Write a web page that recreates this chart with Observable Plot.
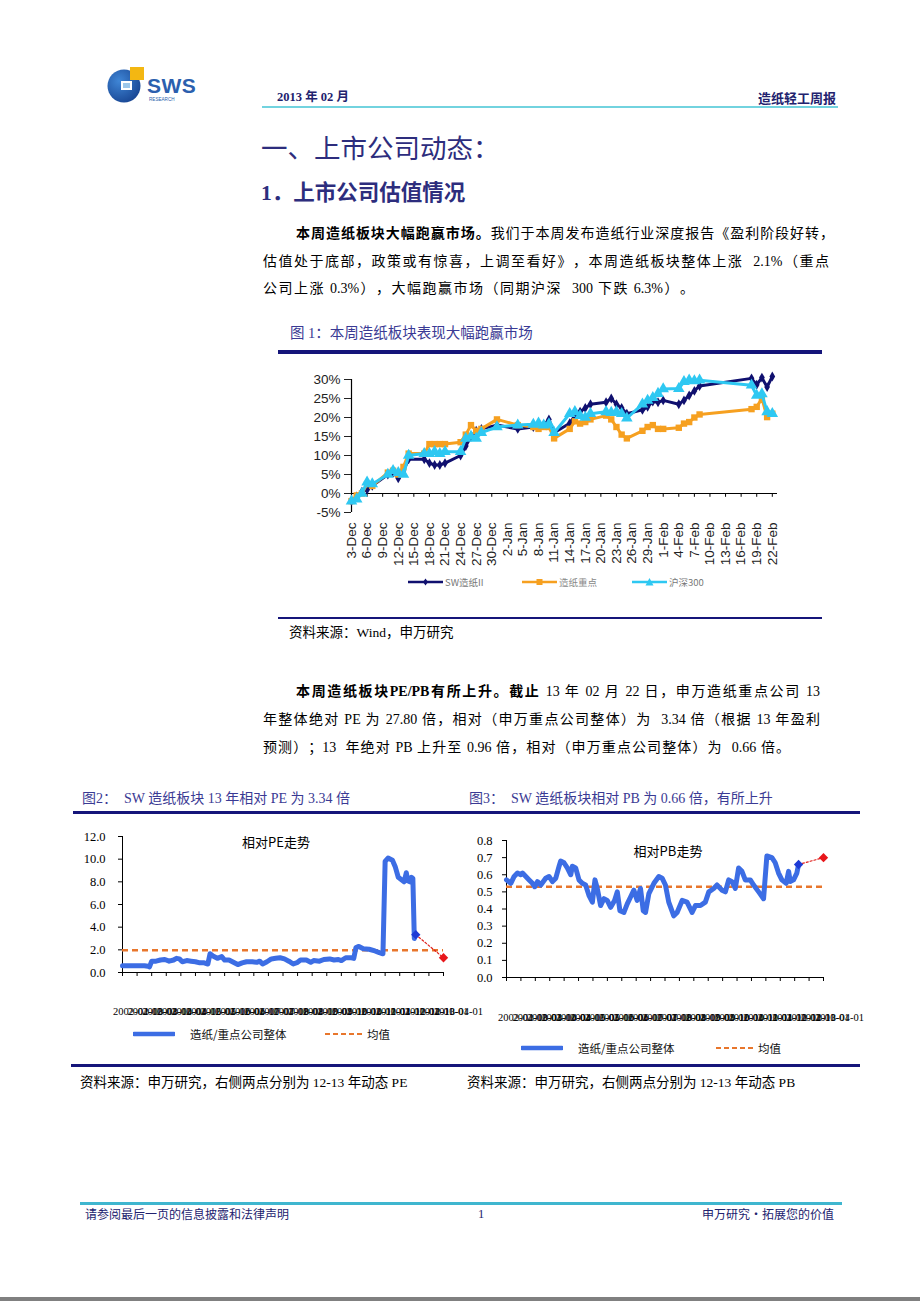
<!DOCTYPE html>
<html><head><meta charset="utf-8">
<script src="https://cdn.jsdelivr.net/npm/d3@7"></script>
<script src="https://cdn.jsdelivr.net/npm/@observablehq/plot@0.6"></script>
<style>
body{margin:0;background:#fff;}
#page{position:relative;width:920px;height:1301px;overflow:hidden;background:#fff;font-family:"Liberation Serif","Noto Sans CJK SC",serif;color:#000;text-spacing-trim:space-all;}
.abs{position:absolute;white-space:nowrap;}
.rule{position:absolute;}
.lg{position:absolute;display:flex;align-items:center;font-family:"Noto Sans CJK SC",sans-serif;white-space:nowrap;}
</style></head>
<body><div id="page"></div>
<script>
// ---------- Chart 1 data ----------
const dates1 = ["2012-12-03","2012-12-04","2012-12-05","2012-12-06","2012-12-07","2012-12-10","2012-12-11","2012-12-12","2012-12-13","2012-12-14","2012-12-17","2012-12-18","2012-12-19","2012-12-20","2012-12-21","2012-12-24","2012-12-25","2012-12-26","2012-12-27","2012-12-28","2012-12-31",
"2013-01-04","2013-01-07","2013-01-08","2013-01-09","2013-01-10","2013-01-11","2013-01-14","2013-01-15","2013-01-16","2013-01-17","2013-01-18","2013-01-21","2013-01-22","2013-01-23","2013-01-24","2013-01-25","2013-01-28","2013-01-29","2013-01-30","2013-01-31",
"2013-02-01","2013-02-04","2013-02-05","2013-02-06","2013-02-07","2013-02-08","2013-02-18","2013-02-19","2013-02-20","2013-02-21","2013-02-22"];
const swPaper = [-2,-0.8,0.5,1,2,5,5.5,4,6,9,9,8,7.5,7.5,8,10,12.5,15,16.5,17,18,
17,17.5,17.8,18,19.5,16,18.5,20.5,21.5,22.5,23.5,24,25,23.5,22.5,21,22,22.8,24.2,24,
24.5,23.5,24.5,25.8,27,28.3,30.3,28.6,30.5,28,30.8];
const keyPaper = [-2,-0.5,0,2.5,2,5.5,6,5,7,10.5,10.5,13,13,13,13,13.5,15.5,18,16.5,17,19.5,
18,17.5,17,17.5,17.5,14.5,17,19,18.4,18.8,19.5,20.5,19.5,17.5,15.5,14.5,16.5,17.5,18,17,
17,17.3,18.4,18.8,20,20.8,22.2,22.8,25,20.1,21];
const hs300 = [-2,-1.5,0,3,2.5,5,6,5.5,5,10,10.5,10.5,11,10.5,11,11,14.5,15,14.5,16,17.5,
18,18.2,18.5,18,18.3,16,21,21.5,20.5,20,21,21.5,21.3,21.5,21,19.8,23.5,24.5,25.2,26.3,
27.5,27.6,29.4,29.8,29.6,29.8,28.5,25.8,26.2,21.5,21];
const series1Names = ["SW造纸II","造纸重点","沪深300"];
const xTickLabels1 = ["3-Dec","6-Dec","9-Dec","12-Dec","15-Dec","18-Dec","21-Dec","24-Dec","27-Dec","30-Dec","2-Jan","5-Jan","8-Jan","11-Jan","14-Jan","17-Jan","20-Jan","23-Jan","26-Jan","29-Jan","1-Feb","4-Feb","7-Feb","10-Feb","13-Feb","16-Feb","19-Feb","22-Feb"];
const yTicks1 = [-5,0,5,10,15,20,25,30];

// ---------- Chart 2 data (relative PE) ----------
const peX = [0,0.5,1,1.5,1.75,1.85,2.0,2.3,2.6,2.9,3.2,3.5,3.7,3.9,4.1,4.4,4.7,5.0,5.3,5.6,5.85,6.0,6.2,6.5,6.8,7.0,7.3,7.6,7.9,8.2,8.5,8.9,9.2,9.4,9.6,9.9,10.2,10.5,10.8,11.1,11.4,11.7,12.0,12.2,12.6,12.9,13.1,13.5,13.8,14.2,14.5,14.8,15.0,15.3,15.7,15.85,16.0,16.2,16.5,16.9,17.3,17.6,17.85,18.0,18.2,18.5,18.7,18.9,19.1,19.3,19.45,19.55,19.7,19.8,19.9,20.0,20.1];
const peV = [0.6,0.6,0.6,0.6,0.55,0.5,1.0,1.0,1.1,1.15,1.0,1.1,1.25,1.2,0.95,1.05,1.0,0.95,0.85,0.85,0.75,1.65,1.45,1.25,1.4,1.1,1.1,0.9,0.7,0.85,0.95,0.95,0.9,1.0,0.75,0.95,1.2,1.25,1.3,1.2,1.0,0.75,0.9,1.1,1.1,0.9,1.05,1.0,1.15,1.2,1.1,1.15,1.05,1.3,1.3,1.25,2.2,2.3,2.1,2.05,1.9,1.75,1.65,9.8,10.1,9.9,9.3,8.4,8.2,8.0,8.8,8.1,8.0,8.4,8.3,3.0,3.34];
const peMean = 1.96;
const peDynX = [20.1, 22];
const peDynV = [3.34, 1.30];
const peYTicks = [0,2,4,6,8,10,12];

// ---------- Chart 3 data (relative PB) ----------
const pbX = [0,0.3,0.53,0.76,0.99,1.11,1.34,1.57,1.8,1.96,2.15,2.38,2.72,2.95,3.19,3.42,3.65,3.76,3.99,4.22,4.46,4.57,4.8,5.03,5.26,5.49,5.72,5.96,6.14,6.3,6.53,6.76,6.99,7.23,7.5,7.69,7.87,8.15,8.38,8.61,8.84,9.07,9.3,9.49,9.65,9.88,10.23,10.57,10.8,11.03,11.26,11.61,11.84,12.19,12.53,12.88,13.11,13.46,13.8,14.04,14.38,14.61,14.96,15.19,15.42,15.65,15.88,16.11,16.34,16.57,16.92,17.15,17.5,17.84,18.07,18.42,18.65,18.88,19.11,19.41,19.58,19.69,19.92,20.15,20.27];
const pbV = [0.57,0.55,0.59,0.61,0.60,0.61,0.59,0.57,0.55,0.53,0.56,0.54,0.58,0.59,0.56,0.58,0.65,0.68,0.67,0.64,0.60,0.65,0.64,0.57,0.55,0.54,0.48,0.44,0.57,0.52,0.42,0.46,0.45,0.41,0.45,0.50,0.39,0.38,0.43,0.47,0.51,0.45,0.52,0.39,0.38,0.49,0.55,0.59,0.58,0.54,0.44,0.36,0.38,0.45,0.44,0.38,0.42,0.42,0.44,0.50,0.52,0.54,0.51,0.50,0.57,0.56,0.52,0.64,0.62,0.57,0.57,0.54,0.50,0.46,0.71,0.70,0.67,0.61,0.57,0.55,0.62,0.56,0.57,0.61,0.66];
const pbMean = 0.53;
const pbDynX = [20.27, 22];
const pbDynV = [0.66, 0.70];
const pbYTicks = [0,0.1,0.2,0.3,0.4,0.5,0.6,0.7,0.8];

// shared category tick labels of charts 2 and 3
const dateTickLabels = ["2002-04-01","2002-10-01","2003-04-01","2003-10-01","2004-04-01","2004-10-01","2005-04-01","2005-10-01","2006-04-01","2006-10-01","2007-04-01","2007-10-01","2008-04-01","2008-10-01","2009-04-01","2009-10-01","2010-04-01","2010-10-01","2011-04-01","2011-10-01","2012-04-01","2012-10-01","2013-04-01"];
const legend23 = ["造纸/重点公司整体","均值"];

// ---------- page helpers ----------
const page = document.getElementById("page");
function txt(html, o){
  const el = document.createElement("div");
  el.className = "abs";
  el.innerHTML = html;
  const lh = Math.round(o.size*1.3);
  let css = `font-size:${o.size}px;line-height:${lh}px;top:${o.cy - lh/2}px;color:${o.color||"#000"};font-weight:${o.bold?"bold":"normal"};`;
  if (o.left != null) css += `left:${o.left}px;`;
  if (o.right != null && o.left == null) css += `right:${920-o.right}px;text-align:right;`;
  if (o.left != null && o.right != null) css += `width:${o.right-o.left}px;white-space:normal;text-align:justify;text-align-last:justify;`;
  if (o.pre) css += "white-space:pre;";
  if (o.font) css += `font-family:${o.font};`;
  el.style.cssText += css;
  page.appendChild(el);
  return el;
}
function rule(left, top, width, height, color){
  const el = document.createElement("div");
  el.className = "rule";
  el.style.cssText = `left:${left}px;top:${top}px;width:${width}px;height:${height}px;background:${color};`;
  page.appendChild(el);
}
function place(node, left, top, w){
  const d = document.createElement("div");
  d.style.cssText = `position:absolute;left:${left}px;top:${top}px;width:${w}px;overflow:visible;`;
  d.appendChild(node);
  page.appendChild(d);
}

const NAVYTXT = "#22226e", CAP = "#3a3a94", RULE = "#15157a";

// logo
page.insertAdjacentHTML("beforeend", `<svg style="position:absolute;left:100px;top:60px" width="110" height="48">
<defs><radialGradient id="lg1" cx="0.35" cy="0.35" r="0.8"><stop offset="0" stop-color="#3f86d6"/><stop offset="1" stop-color="#143f8c"/></radialGradient></defs>
<circle cx="24" cy="26" r="16.5" fill="url(#lg1)"/>
<rect x="21" y="21" width="11" height="9" fill="#fff"/>
<rect x="23" y="23" width="7" height="5" fill="#9cc7ea"/>
<rect x="30" y="7" width="14" height="13" fill="#f3b712"/>
<text x="47" y="33" font-family="Liberation Sans" font-weight="bold" font-size="21" fill="#2b5fae" letter-spacing="0.5">SWS</text>
<text x="49" y="40.5" font-family="Liberation Sans" font-size="4.6" fill="#2b5fae">RESEARCH</text>
</svg>`);

// header
txt("2013 年 02 月", {left:277, cy:97, size:12.5, bold:true, color:NAVYTXT});
txt("造纸轻工周报", {right:836, cy:97, size:13, bold:true, color:NAVYTXT, font:'"Noto Sans CJK SC"'});
rule(262, 106, 576, 2, "#72d3df");

txt("一、上市公司动态：", {left:261, cy:147, size:26.5, color:"#2d2d7d", font:'"Noto Sans CJK SC"'});
txt("1．上市公司估值情况", {left:261, cy:193, size:21.5, bold:true, color:"#2d2d7d"});

// paragraph 1
txt("<b>本周造纸板块大幅跑赢市场。</b>我们于本周发布造纸行业深度报告《盈利阶段好转，", {left:296, right:834, cy:234, size:14});
txt("估值处于底部，政策或有惊喜，上调至看好》，本周造纸板块整体上涨&nbsp; 2.1%（重点", {left:263, right:829, cy:262, size:14});
txt("公司上涨 0.3%），大幅跑赢市场（同期沪深&nbsp; 300 下跌 6.3%）。", {left:263, right:694, cy:289, size:14});

txt("图 1：本周造纸板块表现大幅跑赢市场", {left:290, cy:333, size:14.5, color:CAP});
rule(278, 350, 544, 4, RULE);
rule(278, 617, 544, 2, RULE);
txt("资料来源：Wind，申万研究", {left:289, cy:633, size:13.5});

// paragraph 2
txt("<b>本周造纸板块PE/PB有所上升。截止</b> 13 年 02 月 22 日，申万造纸重点公司 13", {left:296, right:820, cy:692, size:14});
txt("年整体绝对 PE 为 27.80 倍，相对（申万重点公司整体）为&nbsp; 3.34 倍（根据 13 年盈利", {left:263, right:820, cy:720, size:14});
txt("预测）；13&nbsp; 年绝对 PB 上升至 0.96 倍，相对（申万重点公司整体）为&nbsp; 0.66 倍。", {left:263, right:790, cy:748, size:14});

txt("图2：  SW 造纸板块 13 年相对 PE 为 3.34 倍", {left:82, cy:799, size:14, color:CAP, pre:true});
txt("图3：  SW 造纸板块相对 PB 为 0.66 倍，有所上升", {left:469, cy:799, size:14, color:CAP, pre:true});
rule(73, 811, 787, 3, RULE);
rule(71, 1064, 789, 2.5, RULE);
txt("资料来源：申万研究，右侧两点分别为 12-13 年动态 PE", {left:80, cy:1083, size:13.5});
txt("资料来源：申万研究，右侧两点分别为 12-13 年动态 PB", {left:467, cy:1083, size:13.5});

// footer
rule(80, 1202, 762, 3, "#3fb6cf");
txt("请参阅最后一页的信息披露和法律声明", {left:85, cy:1214, size:12, color:NAVYTXT, font:'"Noto Sans CJK SC"'});
txt("1", {left:478, cy:1214, size:12.5, color:NAVYTXT});
txt("申万研究·拓展您的价值", {right:834, cy:1214, size:12, color:NAVYTXT, font:'"Noto Sans CJK SC"'});
rule(0, 1297, 920, 4, "#808080");

// ---------- Chart 1 ----------
const parseD = d3.utcParse("%Y-%m-%d");
const rows1 = dates1.map((d,i)=>({date: parseD(d), sw: swPaper[i], key: keyPaper[i], hs: hs300[i]}));
const parseTick = d3.utcParse("%d-%b-%Y");
const tickDates1 = xTickLabels1.map(s => parseTick(s + (s.endsWith("Dec") ? "-2012" : "-2013")));
const C_NAVY = "#10106f", C_ORANGE = "#f6a020", C_CYAN = "#2ec8f2";
const x1Start = parseD("2012-12-03"), x1End = parseD("2013-02-23");

const chart1 = Plot.plot({
  width: 540, height: 215,
  marginLeft: 71, marginRight: 43, marginTop: 14, marginBottom: 68,
  x: {type: "utc", domain: [x1Start, x1End], label: null},
  y: {domain: [-5, 30], label: null},
  style: {fontFamily: "Liberation Sans", fontSize: "13.5px", color: "#222", background: "transparent", overflow: "visible"},
  marks: [
    Plot.axisY({ticks: yTicks1, tickFormat: d => `${d}%`, tickSize: 7, tickPadding: 4, label: null}),
    Plot.axisX({ticks: tickDates1, tickFormat: d3.utcFormat("%-d-%b"), tickRotate: -90, tickSize: 0, tickPadding: 10, label: null}),
    Plot.ruleX([x1Start], {stroke: "#000", strokeWidth: 1.2}),
    Plot.ruleY([0], {stroke: "#000", strokeWidth: 1.2}),
    Plot.ruleX(tickDates1, {x: d => d, y1: () => 0, y2: () => -1, stroke: "#000"}),
    Plot.line(rows1, {x: "date", y: "sw", stroke: C_NAVY, strokeWidth: 3}),
    Plot.dot(rows1, {x: "date", y: "sw", symbol: "diamond", r: 3, fill: C_NAVY}),
    Plot.line(rows1, {x: "date", y: "key", stroke: C_ORANGE, strokeWidth: 3}),
    Plot.dot(rows1, {x: "date", y: "key", symbol: "square", r: 3.6, fill: C_ORANGE}),
    Plot.line(rows1, {x: "date", y: "hs", stroke: C_CYAN, strokeWidth: 3}),
    Plot.dot(rows1, {x: "date", y: "hs", symbol: "triangle", r: 4.3, fill: C_CYAN})
  ]
});
place(chart1, 280, 365, 540);

// chart 1 legend
function lgItem(left, cy, swatch, label, fs, color){
  const el = document.createElement("div");
  el.className = "lg";
  el.style.cssText += `left:${left}px;top:${cy-8}px;height:16px;font-size:${fs}px;color:${color};`;
  el.innerHTML = swatch + `<span>${label}</span>`;
  page.appendChild(el);
}
const sw1 = (c, shape) => `<svg width="35" height="10" style="margin-right:2px"><line x1="0" y1="5" x2="35" y2="5" stroke="${c}" stroke-width="2.6"/>${shape}</svg>`;
lgItem(408, 582, sw1(C_NAVY, `<path d="M17.5 1.5 L20 5 L17.5 8.5 L15 5Z" fill="${C_NAVY}"/>`), series1Names[0], 9.5, "#777");
lgItem(522, 582, sw1(C_ORANGE, `<rect x="14.5" y="2" width="6" height="6" fill="${C_ORANGE}"/>`), series1Names[1], 9.5, "#888");
lgItem(632, 582, sw1(C_CYAN, `<path d="M17.5 1 L21.5 8.5 L13.5 8.5Z" fill="${C_CYAN}"/>`), series1Names[2], 9.5, "#777");

// ---------- Charts 2 & 3 ----------
const C_BLUE = "#3c6de4", C_MEAN = "#e8762c";
function relChart(o){
  const rows = o.xs.map((t,i)=>({t, v: o.vs[i]}));
  const dyn = o.dynX.map((t,i)=>({t, v: o.dynV[i], c: i === 0 ? "#1d3ad6" : "#e8161b"}));
  const idx = d3.range(dateTickLabels.length);
  return Plot.plot({
    width: o.width, height: o.height,
    marginLeft: o.ml, marginRight: o.mr, marginTop: o.mt, marginBottom: o.mb,
    x: {domain: [0, dateTickLabels.length - 1], label: null},
    y: {domain: o.ydom, label: null},
    style: {fontFamily: "Liberation Serif", fontSize: "12.5px", color: "#000", background: "transparent", overflow: "visible"},
    marks: [
      Plot.axisY({ticks: o.yticks, tickFormat: d3.format(".1f"), tickSize: 4, tickPadding: o.ypad, label: null}),
      Plot.axisX({ticks: idx, tickFormat: () => "", tickSize: 4, label: null}),
      Plot.axisX({ticks: idx, tickFormat: i => dateTickLabels[i], tickSize: 0, tickPadding: o.xpad, dx: o.xdx, fontSize: 10.5, label: null}),
      Plot.ruleX([0], {stroke: "#000"}),
      Plot.ruleY([0], {stroke: "#000"}),
      Plot.ruleY([o.mean], {stroke: C_MEAN, strokeWidth: 2.4, strokeDasharray: "6,4"}),
      Plot.line(rows, {x: "t", y: "v", stroke: C_BLUE, strokeWidth: 5, strokeLinejoin: "round", strokeLinecap: "round"}),
      Plot.line(dyn, {x: "t", y: "v", stroke: "#e0201c", strokeWidth: 1.2, strokeDasharray: "2,2"}),
      Plot.dot(dyn, {x: "t", y: "v", symbol: "diamond2", r: 4.2, fill: "c"}),
      Plot.text([o.title], {text: d => d, frameAnchor: "top", dx: o.tdx, dy: o.tdy, fontFamily: "Noto Sans CJK SC", fontSize: 13, fill: "#000"})
    ]
  });
}
const chart2 = relChart({xs: peX, vs: peV, dynX: peDynX, dynV: peDynV, mean: peMean, ydom: [0,12], yticks: peYTicks,
  width: 400, height: 200, ml: 52, mr: 27, mt: 11, mb: 53, ypad: 13, xpad: 35, xdx: 15, title: "相对PE走势", tdx: -7, tdy: 1});
place(chart2, 70, 825, 400);
const chart3 = relChart({xs: pbX, vs: pbV, dynX: pbDynX, dynV: pbDynV, mean: pbMean, ydom: [0,0.8], yticks: pbYTicks,
  width: 410, height: 205, ml: 46, mr: 47, mt: 15, mb: 53, ypad: 10, xpad: 36, xdx: 16, title: "相对PB走势", tdx: 3, tdy: 6});
place(chart3, 460, 825, 410);

// legends 2 & 3
const sw2 = `<svg width="42" height="8" style="margin-right:15px"><line x1="1" y1="4" x2="41" y2="4" stroke="${C_BLUE}" stroke-width="4.5" stroke-linecap="round"/></svg>`;
const sw3 = `<svg width="40" height="8" style="margin-right:2px"><line x1="0" y1="4" x2="40" y2="4" stroke="${C_MEAN}" stroke-width="2.2" stroke-dasharray="5,3"/></svg>`;
lgItem(133, 1034, sw2, legend23[0], 11.5, "#111");
lgItem(325, 1034, sw3, legend23[1], 11.5, "#111");
lgItem(521, 1048, sw2, legend23[0], 11.5, "#111");
lgItem(716, 1048, sw3, legend23[1], 11.5, "#111");
</script>
</body></html>
